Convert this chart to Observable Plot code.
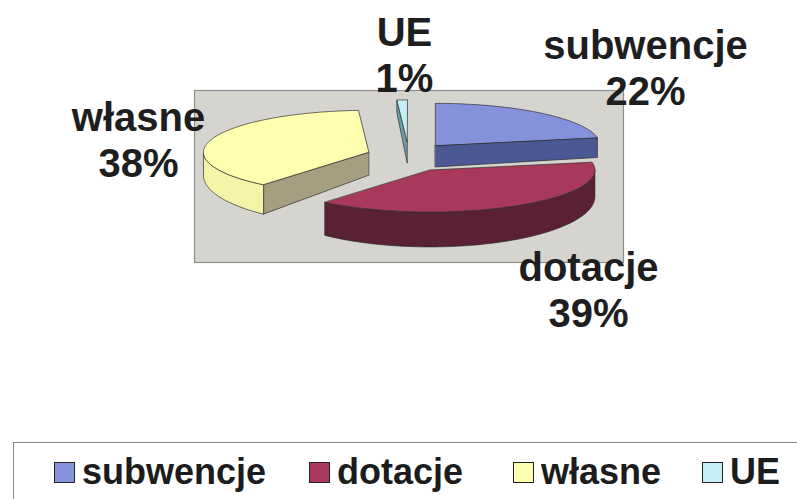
<!DOCTYPE html>
<html>
<head>
<meta charset="utf-8">
<script src="https://cdn.jsdelivr.net/npm/d3@7"></script>
<script src="https://cdn.jsdelivr.net/npm/@observablehq/plot@0.6"></script>
<style>
  html, body { margin: 0; padding: 0; background: #fff; width: 797px; height: 499px; overflow: hidden; }
  #chart svg { display: block; }
  #legend { position: relative; margin-left: 13px; margin-top: 2px; width: 800px; height: 70px;
            border-top: 1.5px solid #8a8a8a; border-left: 1.5px solid #8a8a8a; box-sizing: border-box;
            font-family: "Liberation Sans", Arial, sans-serif; font-weight: bold; font-size: 36px; color: #1c1c1c; }
  .item { position: absolute; top: 0; white-space: nowrap; }
  .sw { position: absolute; top: 19px; left: 0; width: 19px; height: 19px; border: 1.5px solid #222; }
  .lt { position: absolute; left: 28px; top: 9px; line-height: 40px; }
</style>
</head>
<body>
<div id="chart"></div>
<div id="legend"></div>
<script>
// ---- chart data ----
const categories = ["subwencje", "dotacje", "własne", "UE"];
const values = [22, 39, 38, 1];
const percentLabels = ["22%", "39%", "38%", "1%"];

// ---- styles ----
const topColors  = ["#8591db", "#a9395c", "#ffffb0", "#c6eef6"];
const wallColors = ["#4c5894", "#5a2134", "#f4f4a6", "#7fb3bd"];
const faceColors = ["#4c5894", "#5a2134", "#a69e80", "#6d9ea8"];

// ---- layout (pixels) ----
const W = 797, H = 440;
const frameBox = {left: 194, right: 623, top: 90, bottom: 262};
const C = {x: 408, y: 156.5};      // pie centre
const rx = 165, ry = 42;           // ellipse radii of top faces
const ex = 0.255, ey = 0.36;       // explode fraction
const depth = y => 20 + (y - 137) * 0.2;  // fake perspective thickness
const labelOffsetX = [237, 180, -270, -4];
const labelOffsetY = [-90, 132, -18, -103];
const legendLeft = [40, 295, 499, 688];

// ---- geometry from values ----
const total = d3.sum(values);
const rad = a => a * Math.PI / 180;
let acc = 0;
const slices = values.map((v, i) => {
  const s = acc / total * 360; acc += v; const e = acc / total * 360;
  const m = (s + e) / 2;
  const ax = C.x + ex * rx * Math.sin(rad(m));
  const ay = C.y - ey * ry * Math.cos(rad(m));
  return {i, s, e, m, ax, ay};
});
const rim = (sl, th) => [sl.ax + rx * Math.sin(rad(th)), sl.ay - ry * Math.cos(rad(th))];
const arc = (sl, a0, a1) => {
  const pts = []; const n = Math.max(2, Math.ceil(Math.abs(a1 - a0)));
  for (let k = 0; k <= n; k++) pts.push(rim(sl, a0 + (a1 - a0) * k / n));
  return pts;
};

const rows = [];
let pid = 0;
function addPoly(pts, fill) {
  const id = pid++;
  pts.forEach(([x, y]) => rows.push({id, x, y, fill}));
}
// draw back to front
[...slices].sort((a, b) => a.ay - b.ay).forEach(sl => {
  const i = sl.i;
  const apex = [sl.ax, sl.ay];
  const down = ([x, y]) => [x, y + depth(y)];
  const face = th => { const r = rim(sl, th); return [apex, r, down(r), down(apex)]; };
  if (Math.sin(rad(sl.s)) < 0) addPoly(face(sl.s), faceColors[i]);
  if (Math.sin(rad(sl.e)) > 0) addPoly(face(sl.e), faceColors[i]);
  const w0 = Math.max(sl.s, 90), w1 = Math.min(sl.e, 270);
  if (w1 > w0) {
    const top = arc(sl, w0, w1);
    addPoly([...top, ...top.slice().reverse().map(down)], wallColors[i]);
  }
  addPoly([apex, ...arc(sl, sl.s, sl.e)], topColors[i]);
});

const labels = slices.map(sl => ({
  text: categories[sl.i] + "\n" + percentLabels[sl.i],
  x: C.x + labelOffsetX[sl.i],
  y: C.y + labelOffsetY[sl.i]
}));

const chart = Plot.plot({
  width: W, height: H,
  marginLeft: frameBox.left, marginRight: W - frameBox.right,
  marginTop: frameBox.top, marginBottom: H - frameBox.bottom,
  x: {domain: [frameBox.left, frameBox.right], axis: null},
  y: {domain: [frameBox.top, frameBox.bottom], reverse: true, axis: null},
  color: {type: "identity"},
  style: {background: "#fff", overflow: "visible"},
  marks: [
    Plot.frame({fill: "#d6d4ce", stroke: "#8e8e8e", strokeWidth: 1.2}),
    Plot.line(rows, {x: "x", y: "y", z: "id", fill: "fill", stroke: "#2b2b2b",
      strokeWidth: 0.8, strokeOpacity: 0.85, curve: "linear-closed"}),
    Plot.text(labels, {x: "x", y: "y", text: "text", fontSize: 40, fontWeight: "bold",
      fontFamily: "'Liberation Sans', Arial, sans-serif", fill: "#1e1e1e",
      lineHeight: 1.15, lineAnchor: "middle", textAnchor: "middle"})
  ]
});
document.getElementById("chart").append(chart);

// ---- legend ----
const legend = document.getElementById("legend");
categories.forEach((c, i) => {
  const it = document.createElement("div");
  it.className = "item"; it.style.left = legendLeft[i] + "px";
  const sw = document.createElement("div"); sw.className = "sw"; sw.style.background = topColors[i];
  const t = document.createElement("div"); t.className = "lt"; t.textContent = c;
  it.append(sw, t); legend.append(it);
});
</script>
</body>
</html>
